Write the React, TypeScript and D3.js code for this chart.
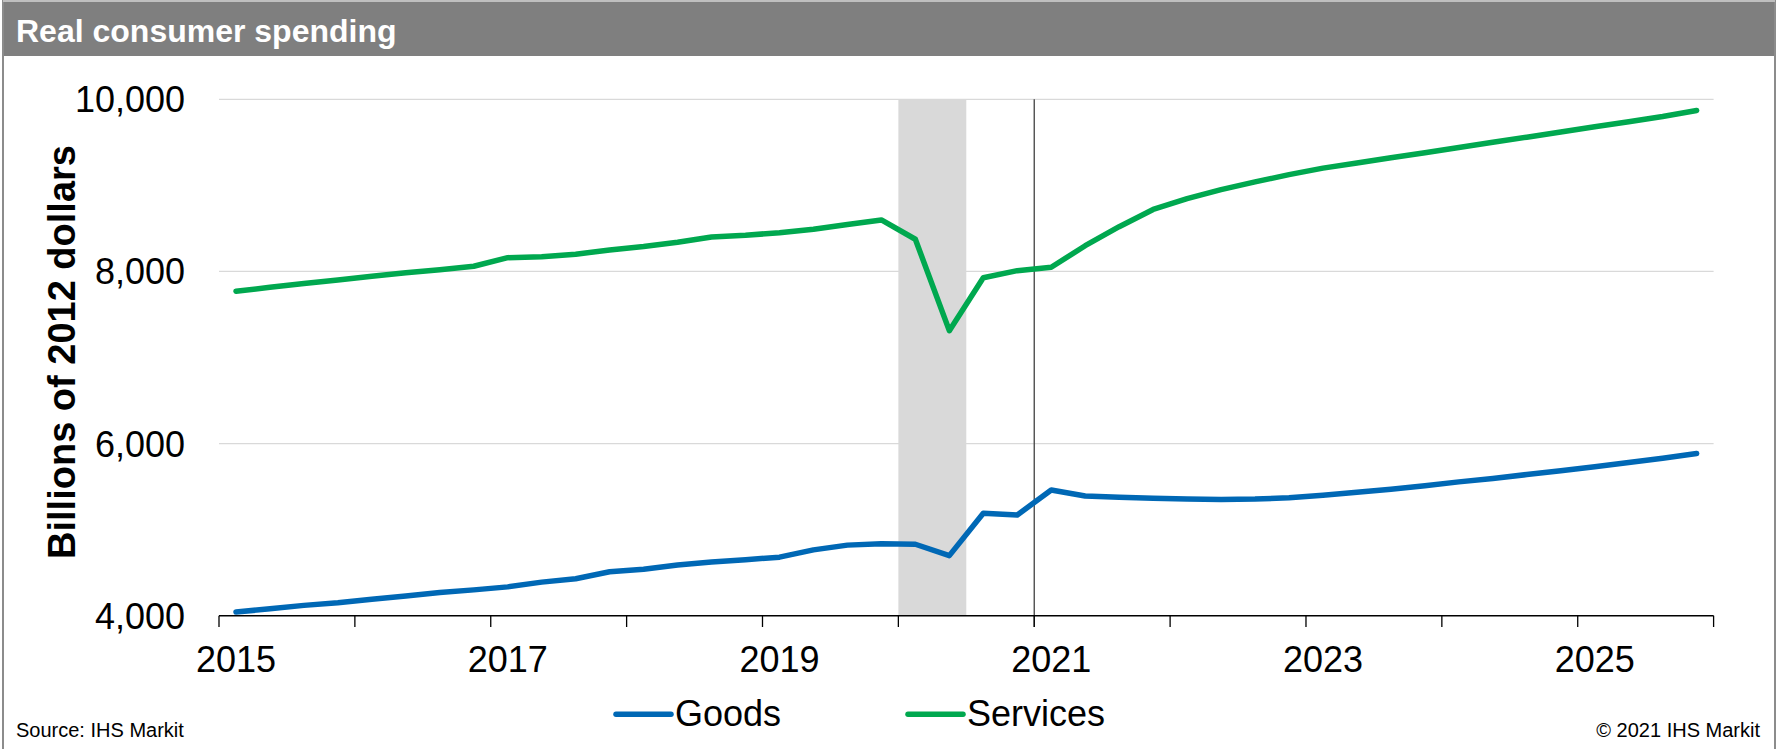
import React from "react";
import * as d3 from "d3";

const quarters: string[] = [];
for (let y = 2015; y <= 2025; y++) for (let q = 1; q <= 4; q++) quarters.push(`${y}Q${q}`);

const goods = [
  4043, 4080, 4120, 4150,
  4190, 4230, 4270, 4300,
  4335, 4390, 4430, 4510,
  4540, 4590, 4625, 4650,
  4680, 4765, 4820, 4835,
  4830, 4698, 5190, 5170,
  5461, 5391, 5375, 5365,
  5355, 5350, 5355, 5370,
  5400, 5435, 5470, 5510,
  5555, 5595, 5640, 5685,
  5730, 5780, 5830, 5885,
];

const services = [
  7770, 7815, 7860, 7900,
  7945, 7985, 8020, 8060,
  8160, 8170, 8200, 8250,
  8290, 8340, 8400, 8420,
  8450, 8490, 8545, 8598,
  8374, 7312, 7927, 8009,
  8048, 8299, 8520, 8720,
  8845, 8950, 9040, 9125,
  9200, 9260, 9320, 9380,
  9440, 9500, 9560, 9620,
  9680, 9740, 9800, 9869,
];

const yTicks = [4000, 6000, 8000, 10000];
const xLabelYears = [2015, 2017, 2019, 2021, 2023, 2025];
const xTickYears = d3.range(2015, 2027);
const recession = ["2020Q1", "2020Q2"];
const forecastStart = 2021;

const seriesList = [
  { name: "Goods", values: goods, color: "#0068b5" },
  { name: "Services", values: services, color: "#00a84f" },
];

const FONT = "'Liberation Sans', Arial, sans-serif";

function qToX(qs: string) {
  const y = +qs.slice(0, 4);
  const q = +qs.slice(5);
  return y + (q - 1) / 4;
}

export default function App() {
  const W = 1777, H = 749;
  const x = d3.scaleLinear().domain([2015, 2026]).range([219, 1713.6]);
  const y = d3.scaleLinear().domain([4000, 10000]).range([615.7, 99.3]);
  const mid = (qs: string) => qToX(qs) + 0.125;
  const line = d3
    .line<number>()
    .x((_, i) => x(mid(quarters[i])))
    .y((d) => y(d));

  const recX0 = x(qToX(recession[0]));
  const recX1 = x(qToX(recession[recession.length - 1]) + 0.25);

  return (
    <svg
      width={W}
      height={H}
      style={{ position: "absolute", left: 0, top: 0, background: "#fff" }}
      fontFamily={FONT}
    >
      <rect x={0} y={0} width={W} height={H} fill="#fff" />
      {/* header */}
      <rect x={3} y={0} width={1772} height={56} fill="#7f7f7f" />
      <line x1={3} x2={3} y1={0} y2={H} stroke="#8c8c8c" strokeWidth={2} />
      <line x1={1775} x2={1775} y1={0} y2={H} stroke="#8c8c8c" strokeWidth={2} />
      <line x1={3} x2={1775} y1={1} y2={1} stroke="#bfbfbf" strokeWidth={2} />
      <text x={16} y={42} fill="#fff" fontSize={32} fontWeight="bold">
        Real consumer spending
      </text>

      {/* recession shading */}
      <rect x={recX0} y={y(10000)} width={recX1 - recX0} height={y(4000) - y(10000)} fill="#d9d9d9" />

      {/* gridlines */}
      {yTicks.slice(1).map((t) => (
        <line key={t} x1={x(2015)} x2={x(2026)} y1={y(t)} y2={y(t)} stroke="#d9d9d9" strokeWidth={1.3} />
      ))}

      {/* y labels */}
      {yTicks.map((t) => (
        <text key={t} x={185} y={y(t)} dy="0.36em" textAnchor="end" fontSize={36} fill="#000">
          {d3.format(",")(t)}
        </text>
      ))}

      {/* axis title */}
      <text
        transform={`translate(75, 352) rotate(-90)`}
        textAnchor="middle"
        fontSize={38}
        fontWeight="bold"
        fill="#000"
      >
        Billions of 2012 dollars
      </text>

      {/* forecast line */}
      <line x1={x(forecastStart)} x2={x(forecastStart)} y1={y(10000)} y2={627} stroke="#404040" strokeWidth={1.3} />

      {/* x axis */}
      <line x1={x(2015)} x2={x(2026)} y1={y(4000)} y2={y(4000)} stroke="#000" strokeWidth={1.5} />
      {xTickYears.map((t) => (
        <line key={t} x1={x(t)} x2={x(t)} y1={y(4000)} y2={627} stroke="#000" strokeWidth={1.3} />
      ))}
      {xLabelYears.map((t) => (
        <text key={t} x={x(t + 0.125)} y={672} textAnchor="middle" fontSize={36} fill="#000">
          {t}
        </text>
      ))}

      {/* series */}
      {seriesList.map((s) => (
        <path
          key={s.name}
          d={line(s.values) || ""}
          fill="none"
          stroke={s.color}
          strokeWidth={5.5}
          strokeLinejoin="round"
          strokeLinecap="round"
        />
      ))}

      {/* legend */}
      <line x1={616} x2={671} y1={714.3} y2={714.3} stroke={seriesList[0].color} strokeWidth={5.5} strokeLinecap="round" />
      <text x={675} y={726} fontSize={36} fill="#000">{seriesList[0].name}</text>
      <line x1={908} x2={963} y1={714.3} y2={714.3} stroke={seriesList[1].color} strokeWidth={5.5} strokeLinecap="round" />
      <text x={967} y={726} fontSize={36} fill="#000">{seriesList[1].name}</text>

      {/* footer */}
      <text x={16} y={737} fontSize={20} fill="#000">Source: IHS Markit</text>
      <text x={1760} y={737} fontSize={20} fill="#000" textAnchor="end">© 2021 IHS Markit</text>
    </svg>
  );
}
